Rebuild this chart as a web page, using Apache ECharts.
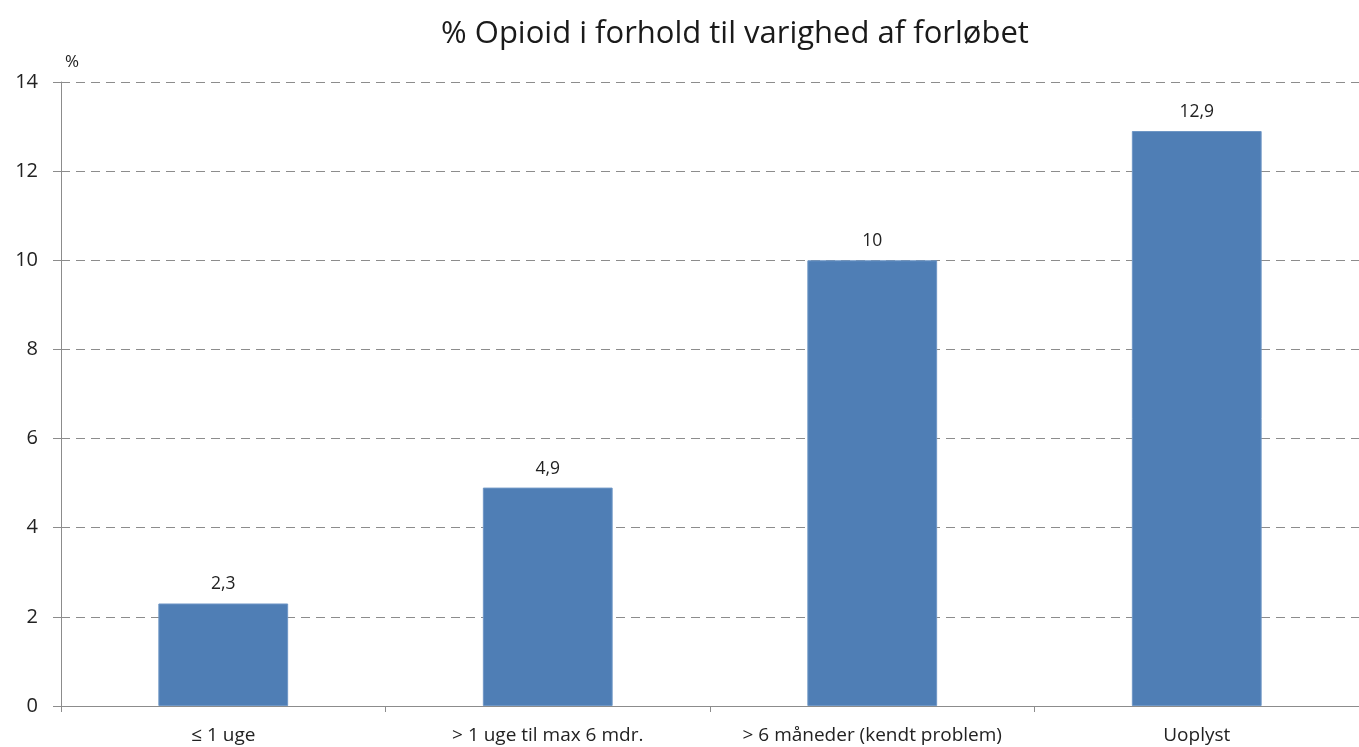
<!DOCTYPE html>
<html><head><meta charset="utf-8">
<script src="https://cdn.jsdelivr.net/npm/echarts@6/dist/echarts.min.js"></script>
<style>html,body{margin:0;padding:0;background:#fff}#c{width:1359px;height:747px}</style>
</head><body><div id="c"></div>
<script>
const categories = ['≤ 1 uge', '> 1 uge til max 6 mdr.', '> 6 måneder (kendt problem)', 'Uoplyst'];
const values = [2.3, 4.9, 10, 12.9];
const titleText = '% Opioid i forhold til varighed af forløbet';
const unitLabel = '%';

const chart = echarts.init(document.getElementById('c'));
const fontFam = '"Open Sans", "Noto Sans", sans-serif';
chart.setOption({
  animation: false,
  title: { text: titleText, left: 730, textAlign: 'center', top: 14,
    textStyle: { fontFamily: fontFam, fontSize: 31, fontWeight: 'normal', color: '#1a1a1a' } },
  grid: { left: 61, right: 0, top: 82, bottom: 41, containLabel: false },
  xAxis: { type: 'category', data: categories,
    axisLine: { lineStyle: { color: '#8c8c8c', width: 1 } },
    axisTick: { show: true, alignWithLabel: false, length: 6, lineStyle: { color: '#8c8c8c' } },
    axisLabel: { interval: 0, fontFamily: fontFam, fontSize: 19, color: '#222', margin: 20 } },
  yAxis: { type: 'value', min: 0, max: 14, interval: 2,
    name: unitLabel, nameLocation: 'end', nameGap: 11,
    nameTextStyle: { fontFamily: fontFam, fontSize: 17, color: '#222', align: 'left', padding: [0,0,0,4] },
    axisLine: { show: true, lineStyle: { color: '#8c8c8c', width: 1 } },
    axisTick: { show: true, length: 8, inside: false, lineStyle: { color: '#8c8c8c' } },
    axisLabel: { fontFamily: fontFam, fontSize: 20, color: '#222', margin: 23 } },
  series: [{ type: 'bar', data: values, barWidth: '40%',
    itemStyle: { color: '#4f7eb5', borderColor: '#6f97c6', borderWidth: 1 },
    label: { show: true, position: 'top', distance: 10, fontFamily: fontFam, fontSize: 17.5, color: '#222',
      formatter: p => String(p.value).replace('.', ',') } }]
});
chart.setOption({ yAxis: { splitLine: { show: true, lineStyle: { color: '#8c8c8c', type: [9, 6], width: 1 } } } });
</script></body></html>
